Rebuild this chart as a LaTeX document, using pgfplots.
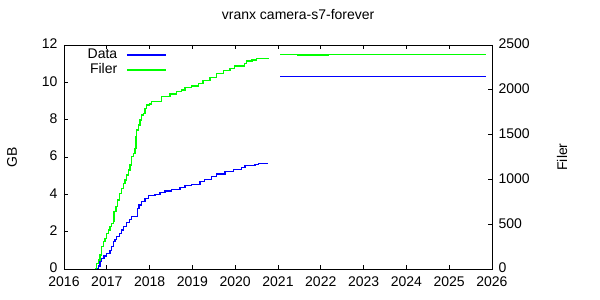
\documentclass[border=0pt]{standalone}
\usepackage{fontspec}
\setmainfont{Liberation Sans}
\usepackage{pgfplots}
\pgfplotsset{compat=1.18}
\definecolor{gpblue}{RGB}{0,0,255}
\definecolor{gpgreen}{RGB}{0,255,0}
\begin{document}
\begin{tikzpicture}[font=\fontsize{14bp}{16bp}\selectfont]
\useasboundingbox (0,0) rectangle (600bp,300bp);
\pgfplotsset{
  common/.style={
    at={(64bp,31bp)}, anchor=south west, scale only axis,
    width=428bp, height=224bp,
    xmin=2016, xmax=2026,
    tick align=inside, major tick length=4bp,
    axis line style={line width=0.8bp},
    every tick/.style={black, line width=0.8bp},
    /pgf/number format/assume math mode=true,
    /pgf/number format/1000 sep={},
    ticklabel style={font=\fontsize{14bp}{16bp}\selectfont},
  }
}
\begin{axis}[common,
  ymin=0, ymax=12,
  xtick={2016,2017,...,2026}, ytick={0,2,...,12},
  xtick pos=both, ytick pos=left,
  xticklabel style={yshift=-4bp},
  yticklabel style={xshift=-3bp, yshift=1bp},
  ylabel={GB},
  ylabel style={at={(axis description cs:-0.1215,0.5)}, anchor=center, rotate=0},
  title={vranx camera-s7-forever},
  title style={at={(axis description cs:0.547,1.111)}, anchor=center},
]
\addplot[const plot, gpblue, line width=1.3bp] coordinates {
(2016.748,0.00) (2016.801,0.16) (2016.841,0.39) (2016.881,0.57) (2016.935,0.70)
(2016.998,0.84) (2017.075,0.98) (2017.114,1.19) (2017.152,1.46) (2017.192,1.59)
(2017.231,1.73) (2017.292,1.91) (2017.348,2.09) (2017.386,2.27) (2017.465,2.48)
(2017.526,2.66) (2017.582,2.80) (2017.713,3.25) (2017.752,3.43) (2017.815,3.60)
(2017.893,3.79) (2017.970,3.93) (2018.126,4.00) (2018.243,4.09) (2018.360,4.18)
(2018.516,4.27) (2018.710,4.38) (2018.827,4.46) (2018.984,4.54) (2019.18,4.68)
(2019.29,4.80) (2019.45,4.94) (2019.57,5.09) (2019.76,5.21) (2019.96,5.34)
(2020.15,5.43) (2020.23,5.53) (2020.46,5.59) (2020.54,5.66) (2020.77,5.66)
};
\addplot[gpblue, line width=1.3bp] coordinates {(2021.05,10.30) (2025.85,10.30)};
\end{axis}
\begin{axis}[common,
  ymin=0, ymax=2500,
  axis x line=none, axis y line*=right,
  ytick={0,500,...,2500}, ytick pos=right,
  yticklabel style={xshift=3bp, yshift=1bp},
  ylabel={Filer},
  ylabel style={at={(axis description cs:1.1636,0.5)}, anchor=center, rotate=0},
  legend style={draw=none, fill=none, at={(axis description cs:0.24,0.99)}, anchor=north east,
    font=\fontsize{14bp}{16bp}\selectfont, inner sep=0bp, row sep=0bp, column sep=8bp,
    nodes={inner sep=1bp, text height=10bp, text depth=3bp}},
  legend cell align=right, legend plot pos=right,
  legend image code/.code={\draw[#1] (0bp,0bp) -- (39bp,0bp);},
]
\addlegendimage{gpblue, line width=1.3bp}
\addlegendentry{Data}
\addplot[const plot, gpgreen, line width=1.3bp] coordinates {
(2016.724,0) (2016.764,64) (2016.801,100) (2016.841,156) (2016.881,249)
(2016.918,305) (2016.958,343) (2016.998,398) (2017.035,435) (2017.075,472)
(2017.114,510) (2017.152,528) (2017.168,639) (2017.215,695) (2017.245,770)
(2017.292,845) (2017.348,900) (2017.386,956) (2017.425,993) (2017.465,1049)
(2017.502,1105) (2017.542,1160) (2017.582,1253) (2017.619,1291) (2017.659,1347)
(2017.682,1476) (2017.699,1551) (2017.736,1607) (2017.776,1663) (2017.815,1718)
(2017.853,1737) (2017.893,1793) (2017.932,1830) (2017.993,1841) (2018.05,1867)
(2018.28,1923) (2018.48,1953) (2018.63,1979) (2018.75,1998) (2018.83,2028)
(2018.98,2042) (2019.14,2072) (2019.25,2102) (2019.41,2139) (2019.57,2184)
(2019.72,2213) (2019.88,2240) (2019.99,2265) (2020.21,2296) (2020.27,2321)
(2020.39,2332) (2020.49,2352) (2020.79,2352)
};
\addlegendentry{Filer}
\addplot[const plot, gpgreen, line width=1.3bp, forget plot] coordinates {
(2021.05,2396) (2021.47,2388) (2022.17,2396) (2025.85,2396)
};
\end{axis}
\end{tikzpicture}
\end{document}
